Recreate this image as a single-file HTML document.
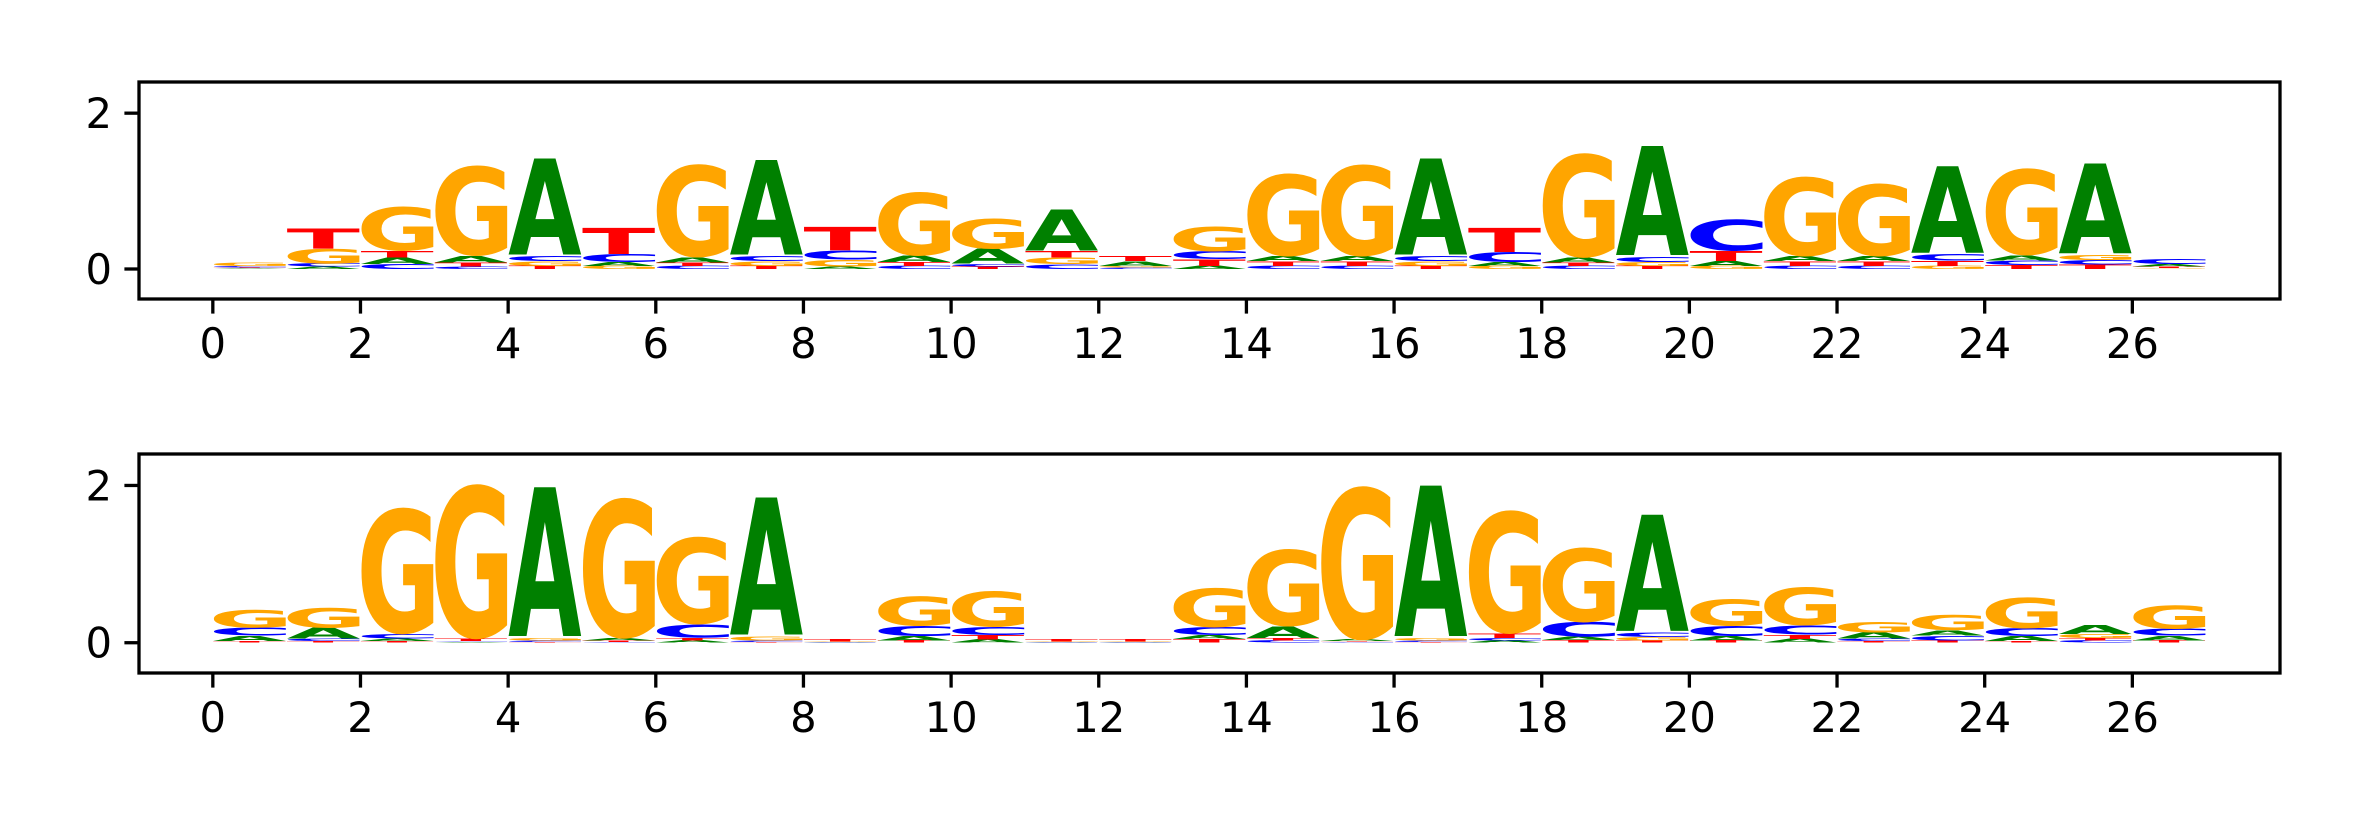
<!DOCTYPE html>
<html><head><meta charset="utf-8"><style>html,body{margin:0;padding:0;background:#fff}svg{display:block}</style></head>
<body>
<svg id="chart" width="2362" height="826" viewBox="0 0 2362 826" xmlns="http://www.w3.org/2000/svg"></svg>
<script>
// Position categories
const positions = [0,1,2,3,4,5,6,7,8,9,10,11,12,13,14,15,16,17,18,19,20,21,22,23,24,25,26];
const xTicks = [0,2,4,6,8,10,12,14,16,18,20,22,24,26];
const yTicks = [0,2];
// Panel 1 letter heights (bits)
const p1A = [0.01,0.03,0.085,0.085,1.25,0.05,0.065,1.23,0.03,0.08,0.19,0.53,0.06,0.04,0.065,0.065,1.25,0.05,0.065,1.42,0.065,0.065,0.065,1.13,0.065,1.17,0.035];
const p1C = [0.02,0.04,0.065,0.035,0.07,0.1,0.04,0.07,0.12,0.04,0.035,0.06,0.02,0.1,0.04,0.04,0.07,0.13,0.04,0.07,0.41,0.04,0.04,0.085,0.06,0.06,0.065];
const p1G = [0.04,0.19,0.57,1.17,0.06,0.04,1.2,0.06,0.09,0.83,0.39,0.085,0.02,0.32,1.07,1.18,0.06,0.04,1.35,0.05,0.04,1.03,0.94,0.04,1.12,0.07,0.01];
const p1T = [0.01,0.26,0.085,0.05,0.04,0.34,0.045,0.04,0.3,0.05,0.03,0.085,0.065,0.085,0.06,0.06,0.04,0.31,0.045,0.04,0.13,0.06,0.06,0.065,0.05,0.055,0.02];
// Panel 2 letter heights (bits)
const p2A = [0.07,0.14,0.035,0.01,1.92,0.03,0.03,1.77,0.005,0.055,0.04,0.005,0.005,0.05,0.15,0.02,1.94,0.03,0.04,1.5,0.055,0.05,0.08,0.07,0.065,0.12,0.06];
const p2C = [0.1,0.03,0.06,0.01,0.02,0.01,0.17,0.02,0.005,0.13,0.1,0.005,0.005,0.1,0.03,0.01,0.02,0.03,0.19,0.06,0.13,0.12,0.03,0.06,0.1,0.03,0.09];
const p2G = [0.235,0.26,1.62,1.98,0.03,1.8,1.12,0.05,0.005,0.38,0.46,0.005,0.005,0.51,0.99,1.97,0.03,1.58,0.96,0.04,0.34,0.49,0.14,0.2,0.4,0.05,0.3];
const p2T = [0.02,0.02,0.02,0.035,0.01,0.02,0.035,0.01,0.035,0.03,0.06,0.035,0.035,0.045,0.03,0.01,0.01,0.06,0.035,0.03,0.03,0.05,0.02,0.03,0.02,0.03,0.03];

const NS="http://www.w3.org/2000/svg";
const svg=document.getElementById('chart');
const colors={A:'#008000',C:'#0000ff',G:'#ffa500',T:'#ff0000'};
const FONT='"DejaVu Sans", "Liberation Sans", sans-serif';
const X0=139,X1=2280,xmin=-1,xmax=28;
function xs(v){return X0+(v-xmin)/(xmax-xmin)*(X1-X0);}
function mk(tag,attrs){const e=document.createElementNS(NS,tag);for(const k in attrs)e.setAttribute(k,attrs[k]);return e;}

// measure ink bounds of glyphs
const ctx=document.createElement('canvas').getContext('2d');
ctx.font='bold 100px "DejaVu Sans", "Liberation Sans", sans-serif';
const ink={};
const fallback={A:[0.3,77.1,72.9,0],C:[5.1,68.5,74.3,1.4],G:[5.1,75.5,74.3,1.4],T:[0,68.2,72.9,0]};
['A','C','G','T'].forEach(l=>{
  const m=ctx.measureText(l);
  if(m.actualBoundingBoxRight!==undefined && m.actualBoundingBoxAscent>10){
    ink[l]=[-m.actualBoundingBoxLeft,m.actualBoundingBoxRight,m.actualBoundingBoxAscent,m.actualBoundingBoxDescent];
  } else ink[l]=fallback[l];
});

function panel(idx,top,bottom,data){
  const ymin=-0.385,ymax=2.4;
  const ys=v=>bottom-(v-ymin)/(ymax-ymin)*(bottom-top);
  const g=mk('g',{});
  
  
  svg.appendChild(g);
  const marks=mk('g',{});
  
  
  g.appendChild(marks);
  positions.forEach((p,i)=>{
    const items=['A','C','G','T'].map(l=>({l,h:data[l][i]})).sort((a,b)=>a.h-b.h);
    let base=0;
    const xl=xs(p), xr=xs(p+1), w=xr-xl;
    items.forEach(it=>{
      const hpx=ys(base)-ys(base+it.h);
      if(hpx>0.3){
        const b=ink[it.l];
        const iw=b[1]-b[0], ih=b[2]+b[3];
        const t=mk('text',{x:0,y:0,'font-family':FONT,'font-weight':'bold','font-size':100,fill:colors[it.l],
          transform:`translate(${xl},${ys(base)}) scale(${w*0.99/iw},${hpx/ih}) translate(${-b[0]},${-b[3]})`});
        t.textContent=it.l;
        
        
        marks.appendChild(t);
      }
      base+=it.h;
    });
  });
  const frame=mk('rect',{x:X0,y:top,width:X1-X0,height:bottom-top,fill:'none',stroke:'#000','stroke-width':3.3});
  
  
  g.appendChild(frame);
  const xa=mk('g',{});
  
  
  g.appendChild(xa);
  xTicks.forEach(v=>{
    const x=xs(v);
    xa.appendChild(mk('line',{x1:x,x2:x,y1:bottom,y2:bottom+14.6,stroke:'#000','stroke-width':3.3}));
    const t=mk('text',{x:x,y:bottom+59,'text-anchor':'middle','font-family':FONT,'font-size':41.7,fill:'#000'});
    t.textContent=v;
    
    
    xa.appendChild(t);
  });
  const ya=mk('g',{});
  
  
  g.appendChild(ya);
  yTicks.forEach(v=>{
    const y=ys(v);
    ya.appendChild(mk('line',{x1:X0-14.6,x2:X0,y1:y,y2:y,stroke:'#000','stroke-width':3.3}));
    const t=mk('text',{x:X0-27,y:y+15,'text-anchor':'end','font-family':FONT,'font-size':41.7,fill:'#000'});
    t.textContent=v;
    
    
    ya.appendChild(t);
  });
}
panel(1,82,299,{A:p1A,C:p1C,G:p1G,T:p1T});
panel(2,454,673,{A:p2A,C:p2C,G:p2G,T:p2T});
</script>
</body></html>
